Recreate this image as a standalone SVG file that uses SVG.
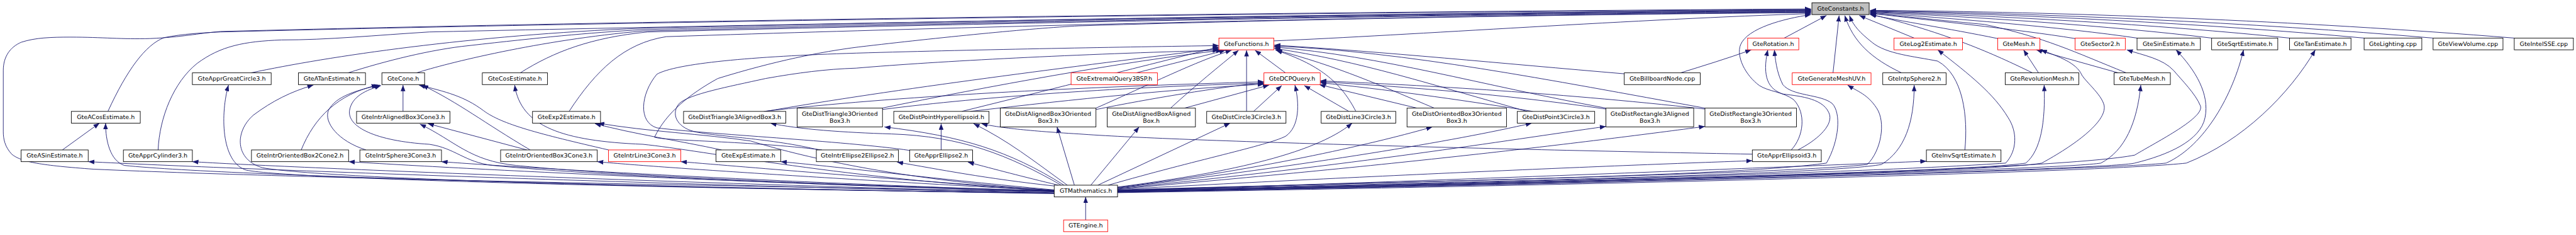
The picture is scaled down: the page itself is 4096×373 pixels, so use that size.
<svg xmlns="http://www.w3.org/2000/svg" width="4096" height="373" viewBox="0 0 4096 373">
<defs>
<style>
.e{fill:none;stroke:#191970;stroke-width:1.2;marker-end:url(#ah)}
.n{fill:#fff;stroke:#000;stroke-width:1.2}
.r{fill:#fff;stroke:#f00;stroke-width:1.2}
.g{fill:#bfbfbf;stroke:#000;stroke-width:1.2}
text{font-family:"DejaVu Sans",sans-serif;font-size:12.8px;text-anchor:middle;fill:#000}
</style>
<marker id="ah" viewBox="0 0 13 10" refX="13" refY="5" markerWidth="13" markerHeight="10" markerUnits="userSpaceOnUse" orient="auto"><path d="M0,0L13,5L0,10z" fill="#191970"/></marker>
</defs>
<rect width="4096" height="373" fill="#fff"/>
<g transform="scale(0.746)">
<g id="edges">
<path class="e" d="M2247,408 C1600,396 700,382 200,360 C90,352 45,345 25,328 C10,312 7,295 7,280 L7,150 C7,120 22,100 45,90 C75,80 110,79 150,79 C220,79 260,84 320,82 C390,79 420,71 470,67 C1500,40 3000,24 3860,19"/>
<path class="e" d="M230,237 C270,150 310,95 350,80 C390,72 430,70 470,68 C1500,42 3000,25 3860,20"/>
<path class="e" d="M337,319 C340,250 370,175 420,135 C470,98 520,88 600,85 C700,85 800,75 915,68 C2000,44 3200,26 3860,21"/>
<path class="e" d="M535,155 C700,120 1000,75 1370,60 C2400,36 3300,25 3860,22"/>
<path class="e" d="M742,155 C820,130 920,105 1000,97 C1150,80 1250,70 1370,63 C2400,38 3300,27 3860,23"/>
<path class="e" d="M888,155 C950,135 1150,85 1370,66 C2400,40 3300,28 3860,24"/>
<path class="e" d="M1109,155 C1180,110 1260,80 1380,68 C2400,42 3300,29 3860,25"/>
<path class="e" d="M1213,237 C1270,150 1330,92 1420,78 C2400,46 3300,30 3860,26"/>
<path class="e" d="M1752,319 C1600,300 1420,300 1395,292 C1420,240 1470,200 1530,167 C1650,130 1750,110 1830,100 C2000,80 2200,60 2300,55 C2800,40 3400,30 3860,27"/>
<path class="e" d="M2715,87 C3000,75 3500,40 3860,29"/>
<path class="e" d="M3803,81 L3893,33"/>
<path class="e" d="M3907,155 L3920,33"/>
<path class="e" d="M4053,155 C3990,125 3950,90 3932,33"/>
<path class="e" d="M3818,319 C3845,290 3850,240 3823,212 C3800,195 3770,195 3750,182 C3720,160 3700,120 3710,95 C3725,60 3800,40 3860,31"/>
<path class="e" d="M4188,319 C4195,250 4185,160 4130,130 C4080,120 4020,115 3990,90 C3965,70 3950,55 3942,33"/>
<path class="e" d="M4080,81 L3963,33"/>
<path class="e" d="M4258,82 C4150,60 4050,45 3986,31"/>
<path class="e" d="M4332,155 C4250,115 4150,70 3986,30"/>
<path class="e" d="M4532,155 C4420,110 4360,80 4230,52 C4100,40 4050,33 3986,29"/>
<path class="e" d="M4423,82 C4300,62 4100,42 3986,28"/>
<path class="e" d="M4555,81 C4400,58 4150,38 3986,27"/>
<path class="e" d="M4714,81 C4500,55 4200,35 3986,26"/>
<path class="e" d="M4880,81 C4600,52 4250,33 3986,25"/>
<path class="e" d="M5039,81 C4700,50 4300,30 3986,24"/>
<path class="e" d="M5186,81 C4800,48 4350,28 3986,23"/>
<path class="e" d="M5359,81 C4900,44 4400,25 3986,22"/>
<path class="e" d="M2422,155 L2612,107"/>
<path class="e" d="M2740,155 L2675,107"/>
<path class="e" d="M2657,237 L2657,107"/>
<path class="e" d="M2495,230 C2550,180 2600,140 2640,107"/>
<path class="e" d="M2336,230 C2450,180 2550,130 2625,107"/>
<path class="e" d="M1632,237 C1900,190 2300,140 2598,103"/>
<path class="e" d="M1880,230 C2100,185 2400,130 2605,107"/>
<path class="e" d="M2050,237 C2200,200 2400,150 2598,100"/>
<path class="e" d="M1939,320 C1800,300 1500,285 1400,272 C1360,260 1365,200 1400,158 C1440,135 1600,120 1825,113 C2100,105 2400,100 2598,97"/>
<path class="e" d="M1745,319 C1650,295 1520,290 1480,280 C1440,270 1430,240 1448,220 C1470,200 1550,185 1632,167 C1700,155 1760,147 1825,145 C2000,130 2300,115 2598,107"/>
<path class="e" d="M2890,237 C2860,180 2820,140 2720,107"/>
<path class="e" d="M3057,230 C2950,185 2850,140 2718,106"/>
<path class="e" d="M3255,237 C3050,180 2900,130 2716,103"/>
<path class="e" d="M3423,230 C3150,180 2950,120 2716,100"/>
<path class="e" d="M3634,230 C3300,170 3000,110 2716,98"/>
<path class="e" d="M3462,157 C3200,135 2950,110 2716,96"/>
<path class="e" d="M2672,237 L2732,182"/>
<path class="e" d="M2525,230 L2705,181"/>
<path class="e" d="M2336,233 C2450,210 2600,185 2694,176"/>
<path class="e" d="M1628,237 C1900,205 2300,185 2694,174"/>
<path class="e" d="M1880,233 C2100,205 2400,185 2694,177"/>
<path class="e" d="M2068,237 C2300,210 2500,190 2694,179"/>
<path class="e" d="M2875,237 L2780,182"/>
<path class="e" d="M3020,230 L2812,180"/>
<path class="e" d="M3267,237 C3100,210 2950,190 2814,176"/>
<path class="e" d="M3423,232 C3200,200 3000,185 2814,174"/>
<path class="e" d="M3634,232 C3300,195 3000,180 2814,172"/>
<path class="e" d="M859,237 L859,181"/>
<path class="e" d="M642,319 C670,250 720,200 805,181"/>
<path class="e" d="M780,319 C720,300 690,260 700,235 C715,205 760,192 810,181"/>
<path class="e" d="M1130,319 C1030,260 980,220 900,181"/>
<path class="e" d="M1297,319 C1150,285 1070,265 1030,235 C990,205 950,195 893,181"/>
<path class="e" d="M1123,319 L912,263"/>
<path class="e" d="M133,319 L212,262"/>
<path class="e" d="M1538,319 C1450,300 1350,285 1268,263"/>
<path class="e" d="M2006,319 L2006,263"/>
<path class="e" d="M3735,328 C3200,318 2500,300 2300,285 C2180,278 2120,270 2092,263"/>
<path class="e" d="M3582,155 C3630,140 3680,125 3733,106"/>
<path class="e" d="M3832,319 C3870,300 3905,270 3900,245 C3890,210 3840,205 3800,200 C3770,190 3755,165 3768,106"/>
<path class="e" d="M4345,155 L4313,106"/>
<path class="e" d="M4515,155 L4340,106"/>
<path class="e" d="M2314,468 L2314,419"/>
<path class="e" d="M2247,411 C1500,396 500,360 188,344"/>
<path class="e" d="M2247,412 C1500,400 500,376 265,352 C235,342 225,300 225,262"/>
<path class="e" d="M2247,410 C1500,392 600,356 410,344"/>
<path class="e" d="M2247,411 C1500,402 620,382 525,362 C470,345 470,240 487,181"/>
<path class="e" d="M2247,411 C1500,402 700,382 560,357 C500,340 500,280 540,245 C580,215 620,195 668,181"/>
<path class="e" d="M2247,408 C1600,390 1000,360 743,344"/>
<path class="e" d="M2247,407 C1600,386 1100,356 941,344"/>
<path class="e" d="M2247,406 C1800,382 1400,356 1273,344"/>
<path class="e" d="M2247,405 C1900,382 1600,356 1451,344"/>
<path class="e" d="M2247,404 C2000,382 1800,356 1664,344"/>
<path class="e" d="M2250,396 C2100,380 2000,360 1912,345"/>
<path class="e" d="M2256,394 C2180,376 2120,360 2063,345"/>
<path class="e" d="M2247,406 C1800,382 1500,320 1370,307 C1200,300 1110,270 1097,181"/>
<path class="e" d="M2247,407 C1800,396 1300,376 1050,352 C990,345 970,315 915,307 C800,300 740,270 745,235 C750,205 780,192 812,182"/>
<path class="e" d="M2247,406 C1700,392 1300,372 1100,352 C1000,342 970,300 895,264"/>
<path class="e" d="M2247,405 C1900,382 1700,330 1600,300 C1500,285 1380,280 1275,262"/>
<path class="e" d="M2262,394 C2150,330 2050,290 1900,285 C1800,282 1700,275 1642,262"/>
<path class="e" d="M2268,394 C2150,320 2050,290 1885,270"/>
<path class="e" d="M2275,394 C2200,340 2150,300 2075,263"/>
<path class="e" d="M2290,394 L2253,270"/>
<path class="e" d="M2325,394 L2428,270"/>
<path class="e" d="M2340,394 L2622,262"/>
<path class="e" d="M2362,394 C2550,340 2700,310 2740,290 C2770,270 2770,220 2760,181"/>
<path class="e" d="M2382,398 C2600,370 2800,330 2882,262"/>
<path class="e" d="M2382,399 C2700,360 2950,300 3053,270"/>
<path class="e" d="M2382,400 C2800,350 3100,300 3265,262"/>
<path class="e" d="M2382,401 C2900,350 3200,300 3423,269"/>
<path class="e" d="M2382,402 C3000,350 3400,300 3634,269"/>
<path class="e" d="M2382,403 C3000,370 3500,350 3735,342"/>
<path class="e" d="M2382,404 C3000,386 3700,375 3893,347 C3920,300 3925,240 3905,220 C3880,200 3820,205 3800,180 C3790,160 3785,140 3782,106"/>
<path class="e" d="M2382,405 C3000,386 3800,370 3980,350 C4010,320 4020,260 4000,230 C3980,200 3960,195 3938,181"/>
<path class="e" d="M2382,405 C3200,386 3900,370 4010,350 C4060,320 4080,260 4080,181"/>
<path class="e" d="M2382,406 C3200,380 3800,355 4106,343"/>
<path class="e" d="M2382,406 C3300,386 4000,366 4275,347 C4300,320 4300,280 4280,250 C4250,200 4200,160 4130,106"/>
<path class="e" d="M2382,407 C3300,386 4200,366 4318,347 C4350,320 4360,260 4357,181"/>
<path class="e" d="M2382,407 C3400,386 4250,366 4352,347 C4420,310 4490,260 4485,225 C4480,200 4440,170 4435,155 C4420,130 4380,118 4350,106"/>
<path class="e" d="M2382,408 C3500,386 4400,360 4550,330 C4600,300 4700,250 4690,225 C4680,200 4650,170 4633,150 C4610,125 4570,118 4533,106"/>
<path class="e" d="M2382,408 C3500,386 4400,360 4478,347 C4530,320 4555,260 4563,181"/>
<path class="e" d="M2382,409 C3500,388 4500,360 4550,347 C4620,330 4690,300 4700,250 C4710,200 4680,150 4638,106"/>
<path class="e" d="M2382,409 C3500,390 4500,360 4617,347 C4700,310 4760,200 4782,106"/>
<path class="e" d="M2382,410 C3500,392 4500,365 4660,347 C4780,300 4880,200 4935,106"/>
</g>
<g id="n_constants"><rect class="g" x="3862" y="6" width="122" height="25"/><text x="3923" y="22.5">GteConstants.h</text></g>
<g id="n_functions"><rect class="r" x="2598" y="81" width="117" height="25"/><text x="2656.5" y="97.5">GteFunctions.h</text></g>
<g id="n_rotation"><rect class="r" x="3725" y="81" width="109" height="25"/><text x="3779.5" y="97.5">GteRotation.h</text></g>
<g id="n_log2"><rect class="r" x="4037" y="81" width="146" height="25"/><text x="4110" y="97.5">GteLog2Estimate.h</text></g>
<g id="n_mesh"><rect class="r" x="4258" y="81" width="90" height="25"/><text x="4303" y="97.5">GteMesh.h</text></g>
<g id="n_sector2"><rect class="r" x="4423" y="81" width="107" height="25"/><text x="4476.5" y="97.5">GteSector2.h</text></g>
<g id="n_sinest"><rect class="n" x="4555" y="81" width="135" height="25"/><text x="4622.5" y="97.5">GteSinEstimate.h</text></g>
<g id="n_sqrtest"><rect class="n" x="4714" y="81" width="141" height="25"/><text x="4784.5" y="97.5">GteSqrtEstimate.h</text></g>
<g id="n_tanest"><rect class="n" x="4880" y="81" width="131" height="25"/><text x="4945.5" y="97.5">GteTanEstimate.h</text></g>
<g id="n_lighting"><rect class="n" x="5039" y="81" width="123" height="25"/><text x="5100.5" y="97.5">GteLighting.cpp</text></g>
<g id="n_viewvol"><rect class="n" x="5186" y="81" width="149" height="25"/><text x="5260.5" y="97.5">GteViewVolume.cpp</text></g>
<g id="n_intelsse"><rect class="n" x="5359" y="81" width="126" height="25"/><text x="5422" y="97.5">GteIntelSSE.cpp</text></g>
<g id="n_apprgc3"><rect class="n" x="410" y="155" width="168" height="25"/><text x="494" y="171.5">GteApprGreatCircle3.h</text></g>
<g id="n_atanest"><rect class="n" x="636" y="155" width="143" height="25"/><text x="707.5" y="171.5">GteATanEstimate.h</text></g>
<g id="n_cone"><rect class="n" x="814" y="155" width="91" height="25"/><text x="859.5" y="171.5">GteCone.h</text></g>
<g id="n_cosest"><rect class="n" x="1028" y="155" width="139" height="25"/><text x="1097.5" y="171.5">GteCosEstimate.h</text></g>
<g id="n_extq"><rect class="r" x="2283" y="155" width="184" height="25"/><text x="2375" y="171.5">GteExtremalQuery3BSP.h</text></g>
<g id="n_dcp"><rect class="r" x="2694" y="155" width="120" height="25"/><text x="2754" y="171.5">GteDCPQuery.h</text></g>
<g id="n_billboard"><rect class="n" x="3462" y="155" width="162" height="25"/><text x="3543" y="171.5">GteBillboardNode.cpp</text></g>
<g id="n_genmesh"><rect class="r" x="3820" y="155" width="168" height="25"/><text x="3904" y="171.5">GteGenerateMeshUV.h</text></g>
<g id="n_intpsph2"><rect class="n" x="4013" y="155" width="135" height="25"/><text x="4080.5" y="171.5">GteIntpSphere2.h</text></g>
<g id="n_revmesh"><rect class="n" x="4274" y="155" width="157" height="25"/><text x="4352.5" y="171.5">GteRevolutionMesh.h</text></g>
<g id="n_tubemesh"><rect class="n" x="4506" y="155" width="120" height="25"/><text x="4566" y="171.5">GteTubeMesh.h</text></g>
<g id="n_acos"><rect class="n" x="152" y="237" width="147" height="25"/><text x="225.5" y="253.5">GteACosEstimate.h</text></g>
<g id="n_intrab3c3"><rect class="n" x="760" y="237" width="199" height="25"/><text x="859.5" y="253.5">GteIntrAlignedBox3Cone3.h</text></g>
<g id="n_exp2"><rect class="n" x="1135" y="237" width="145" height="25"/><text x="1207.5" y="253.5">GteExp2Estimate.h</text></g>
<g id="n_dt3ab3"><rect class="n" x="1457" y="237" width="218" height="25"/><text x="1566" y="253.5">GteDistTriangle3AlignedBox3.h</text></g>
<g id="n_dt3ob3"><rect class="n" x="1699" y="230" width="182" height="40"/><text x="1790" y="246">GteDistTriangle3Oriented</text><text x="1790" y="261.5">Box3.h</text></g>
<g id="n_dphe"><rect class="n" x="1905" y="237" width="203" height="25"/><text x="2006.5" y="253.5">GteDistPointHyperellipsoid.h</text></g>
<g id="n_dab3ob3"><rect class="n" x="2132" y="230" width="204" height="40"/><text x="2234" y="246">GteDistAlignedBox3Oriented</text><text x="2234" y="261.5">Box3.h</text></g>
<g id="n_dabab"><rect class="n" x="2360" y="230" width="188" height="40"/><text x="2454" y="246">GteDistAlignedBoxAligned</text><text x="2454" y="261.5">Box.h</text></g>
<g id="n_dc3c3"><rect class="n" x="2572" y="237" width="169" height="25"/><text x="2656.5" y="253.5">GteDistCircle3Circle3.h</text></g>
<g id="n_dl3c3"><rect class="n" x="2816" y="237" width="159" height="25"/><text x="2895.5" y="253.5">GteDistLine3Circle3.h</text></g>
<g id="n_dob3ob3"><rect class="n" x="2999" y="230" width="212" height="40"/><text x="3105" y="246">GteDistOrientedBox3Oriented</text><text x="3105" y="261.5">Box3.h</text></g>
<g id="n_dp3c3"><rect class="n" x="3234" y="237" width="165" height="25"/><text x="3316.5" y="253.5">GteDistPoint3Circle3.h</text></g>
<g id="n_dr3ab3"><rect class="n" x="3423" y="230" width="187" height="40"/><text x="3516.5" y="246">GteDistRectangle3Aligned</text><text x="3516.5" y="261.5">Box3.h</text></g>
<g id="n_dr3ob3"><rect class="n" x="3634" y="230" width="195" height="40"/><text x="3731.5" y="246">GteDistRectangle3Oriented</text><text x="3731.5" y="261.5">Box3.h</text></g>
<g id="n_asin"><rect class="n" x="45" y="319" width="143" height="25"/><text x="116.5" y="335.5">GteASinEstimate.h</text></g>
<g id="n_apprcyl3"><rect class="n" x="263" y="319" width="147" height="25"/><text x="336.5" y="335.5">GteApprCylinder3.h</text></g>
<g id="n_introb2c2"><rect class="n" x="536" y="319" width="207" height="25"/><text x="639.5" y="335.5">GteIntrOrientedBox2Cone2.h</text></g>
<g id="n_intrs3c3"><rect class="n" x="767" y="319" width="174" height="25"/><text x="854" y="335.5">GteIntrSphere3Cone3.h</text></g>
<g id="n_introb3c3"><rect class="n" x="1067" y="319" width="206" height="25"/><text x="1170" y="335.5">GteIntrOrientedBox3Cone3.h</text></g>
<g id="n_intrl3c3"><rect class="r" x="1297" y="319" width="154" height="25"/><text x="1374" y="335.5">GteIntrLine3Cone3.h</text></g>
<g id="n_expest"><rect class="n" x="1526" y="319" width="138" height="25"/><text x="1595" y="335.5">GteExpEstimate.h</text></g>
<g id="n_intre2e2"><rect class="n" x="1740" y="319" width="175" height="25"/><text x="1827.5" y="335.5">GteIntrEllipse2Ellipse2.h</text></g>
<g id="n_apprell2"><rect class="n" x="1939" y="319" width="134" height="25"/><text x="2006" y="335.5">GteApprEllipse2.h</text></g>
<g id="n_apprell3"><rect class="n" x="3735" y="319" width="147" height="25"/><text x="3808.5" y="335.5">GteApprEllipsoid3.h</text></g>
<g id="n_invsqrt"><rect class="n" x="4106" y="319" width="159" height="25"/><text x="4185.5" y="335.5">GteInvSqrtEstimate.h</text></g>
<g id="n_gtmath"><rect class="n" x="2247" y="394" width="135" height="25"/><text x="2314.5" y="410.5">GTMathematics.h</text></g>
<g id="n_gtengine"><rect class="r" x="2267" y="468" width="94" height="25"/><text x="2314" y="484.5">GTEngine.h</text></g>
</g>
</svg>
